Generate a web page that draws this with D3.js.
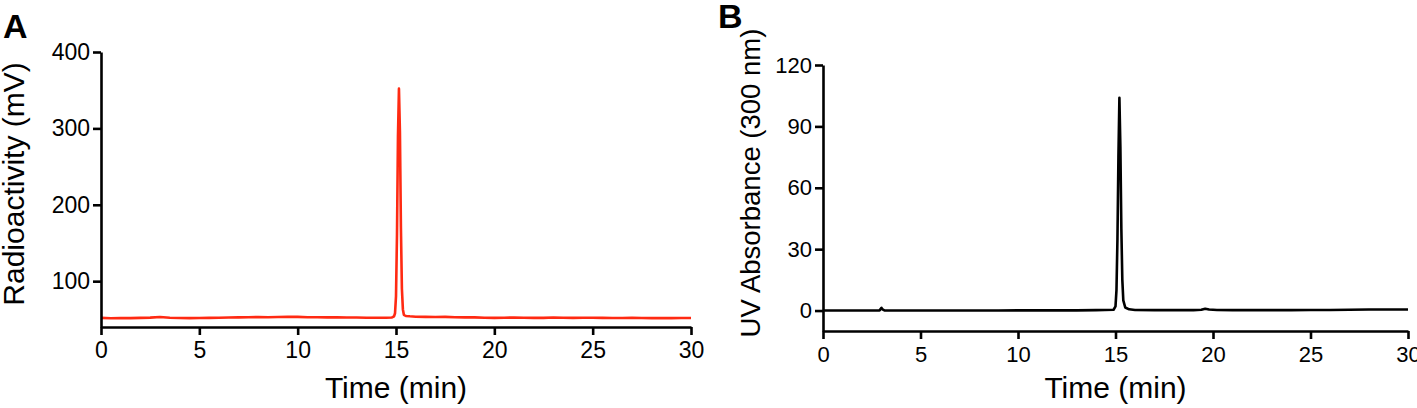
<!DOCTYPE html>
<html>
<head>
<meta charset="utf-8">
<script src="https://cdn.jsdelivr.net/npm/d3@7"></script>
<style>
  body { margin: 0; background: #fff; }
  svg text { font-family: "Liberation Sans", Arial, Helvetica, sans-serif; fill: #000; }
</style>
</head>
<body>
<svg id="chart" width="1417" height="408"></svg>
<script>
// panel A: radioactivity trace (mV)
var timeA = [0, 0.5, 1, 1.5, 2, 2.5, 3, 3.5, 4, 4.5, 5, 5.5, 6, 6.5, 7, 7.5, 8, 8.5, 9, 9.5,
  10, 10.5, 11, 11.5, 12, 12.5, 13, 13.5, 14, 14.5, 14.8, 14.9, 14.95, 15, 15.05, 15.1, 15.15,
  15.2, 15.25, 15.3, 15.35, 15.4, 15.5, 15.7, 16, 16.5, 17, 17.5, 18, 18.5, 19, 19.5, 20,
  20.5, 21, 21.5, 22, 22.5, 23, 23.5, 24, 24.5, 25, 25.5, 26, 26.5, 27, 27.5, 28, 28.5, 29, 29.5, 30];
var radio = [52, 51.5, 51.8, 51.6, 52, 52.3, 53, 52.2, 51.8, 51.6, 51.8, 52, 52.2, 52.4, 52.6, 52.8, 53, 52.8, 53, 53.4,
  53.2, 52.8, 52.8, 52.6, 52.6, 52.4, 52.4, 52.2, 52.2, 52.2, 52.5, 54, 58, 80, 160, 290, 352,
  295, 170, 90, 63, 56, 54.5, 54, 53.5, 53.2, 53, 53.2, 52.8, 52.6, 52.6, 52.2, 52,
  52.2, 52.4, 52.2, 52, 52, 52.4, 52.2, 52, 52.2, 52.2, 52, 51.8, 51.8, 52, 51.8, 51.6, 51.8, 51.6, 51.8, 51.8];

// panel B: UV absorbance trace
var timeB = [0, 1, 2, 2.9, 3, 3.05, 3.15, 4, 5, 6, 7, 8, 9, 10, 11, 12, 13, 14, 14.9, 15, 15.05,
  15.1, 15.15, 15.2, 15.25, 15.3, 15.35, 15.4, 15.5, 15.7, 16, 17, 18, 19, 19.4, 19.6, 19.8, 20.2,
  21, 22, 23, 24, 25, 26, 27, 28, 29, 30];
var uv = [0, 0, 0, 0.1, 1.3, 0.6, 0.1, 0, 0, 0, 0, 0, 0, 0.1, 0.1, 0.1, 0.1, 0.2, 0.4, 2, 10,
  35, 75, 104, 80, 40, 15, 5, 1.5, 0.6, 0.3, 0.2, 0.2, 0.2, 0.4, 0.9, 0.5, 0.3,
  0.2, 0.2, 0.2, 0.2, 0.3, 0.3, 0.4, 0.5, 0.5, 0.5];

var xTicks = [0, 5, 10, 15, 20, 25, 30]
  , yTicksA = [100, 200, 300, 400]
  , yTicksB = [0, 30, 60, 90, 120];

var svg = d3.select("#chart");

function drawPanel(opt) {
  var g = svg.append("g");

  var x = d3.scaleLinear().domain([0, 30]).range([opt.left, opt.right]);
  var y = d3.scaleLinear().domain(opt.yDomain).range([opt.bottom, opt.top]);

  var line = d3.line()
      .x(function(d) { return x(d[0]); })
      .y(function(d) { return y(d[1]); });

  g.append("path")
      .datum(d3.zip(opt.times, opt.values))
      .attr("d", line)
      .attr("fill", "none")
      .attr("stroke", opt.color)
      .attr("stroke-width", 2.6)
      .attr("stroke-linejoin", "round");

  var xAxis = g.append("g")
      .attr("transform", "translate(0," + opt.bottom + ")")
      .call(d3.axisBottom(x).tickValues(xTicks).tickSize(8).tickSizeOuter(0).tickPadding(7));

  var yAxis = g.append("g")
      .attr("transform", "translate(" + opt.left + ",0)")
      .call(d3.axisLeft(y).tickValues(opt.yTicks).tickSize(8).tickSizeOuter(0).tickPadding(3));

  [xAxis, yAxis].forEach(function(a) {
    a.select(".domain").attr("stroke", "#000").attr("stroke-width", 2.6);
    a.selectAll(".tick line").attr("stroke", "#000").attr("stroke-width", 2.6);
    a.selectAll(".tick text")
        .style("font-size", opt.tickFont + "px")
        .attr("fill", "#000");
  });

  g.append("text")
      .attr("x", (opt.left + opt.right) / 2)
      .attr("y", 398)
      .style("text-anchor", "middle")
      .style("font-size", "30px")
      .text("Time (min)");

  g.append("text")
      .attr("transform", "translate(" + opt.yTitleX + "," + opt.yTitleY + ") rotate(-90)")
      .style("text-anchor", "middle")
      .style("font-size", opt.yTitleFont + "px")
      .text(opt.yTitle);

  g.append("text")
      .attr("x", opt.letterX)
      .attr("y", opt.letterY)
      .style("font-size", "34px")
      .style("font-weight", "bold")
      .text(opt.letter);
}

drawPanel({
  times: timeA, values: radio, color: "#ff2a12",
  left: 101, right: 691, top: 52, bottom: 327,
  yDomain: [40, 400], yTicks: yTicksA, tickFont: 23,
  yTitle: "Radioactivity (mV)", yTitleX: 24, yTitleY: 184, yTitleFont: 30,
  letter: "A", letterX: 3, letterY: 38
});

drawPanel({
  times: timeB, values: uv, color: "#000",
  left: 823, right: 1408, top: 65, bottom: 331,
  yDomain: [-10, 120], yTicks: yTicksB, tickFont: 22,
  yTitle: "UV Absorbance (300 nm)", yTitleX: 760, yTitleY: 183, yTitleFont: 27.5,
  letter: "B", letterX: 718, letterY: 28
});
</script>
</body>
</html>
